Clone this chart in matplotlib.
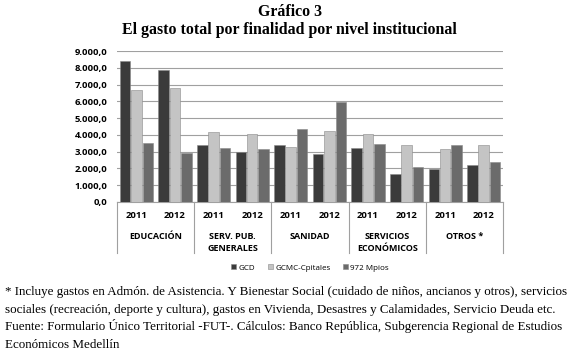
import numpy as np
import matplotlib.pyplot as plt
import matplotlib.transforms as mtransforms

# Datos (miles de millones)
categorias = ["EDUCACIÓN", "SERV. PUB.\nGENERALES", "SANIDAD", "SERVICIOS\nECONÓMICOS", "OTROS *"]
anios = ["2011", "2012"]
series = ["GCD", "GCMC-Cpitales", "972 Mpios"]
gcd = [8400, 7870, 3370, 2970, 3390, 2870, 3230, 1670, 1970, 2210]
gcmc = [6670, 6810, 4160, 4060, 3290, 4220, 4040, 3390, 3170, 3410]
mpios = [3490, 2930, 3230, 3170, 4360, 5980, 3470, 2110, 3410, 2390]
yticks = [0, 1000, 2000, 3000, 4000, 5000, 6000, 7000, 8000, 9000]
ytick_labels = ["0,0", "1.000,0", "2.000,0", "3.000,0", "4.000,0",
                "5.000,0", "6.000,0", "7.000,0", "8.000,0", "9.000,0"]
nota = ["* Incluye gastos en Admón. de Asistencia. Y Bienestar Social (cuidado de niños, ancianos y otros), servicios",
        "sociales (recreación, deporte y cultura), gastos en Vivienda, Desastres y Calamidades, Servicio Deuda etc.",
        "Fuente: Formulario Único Territorial -FUT-. Cálculos: Banco República, Subgerencia Regional de Estudios",
        "Económicos Medellín"]

colores = ["#3b3b3b", "#c4c4c4", "#6b6b6b"]
sans = "Open Sans"
serif = "Liberation Serif"

W, H = 578, 349
fig = plt.figure(figsize=(W / 100, H / 100), dpi=100)
ax = fig.add_axes([117 / W, 1 - 202 / H, 386 / W, 151 / H])

x = np.arange(len(gcd)) + 0.5
offs = [-0.29, 0.0, 0.30]
ancho = 0.27
for vals, off, c, lab in zip([gcd, gcmc, mpios], offs, colores, series):
    ax.bar(x + off, vals, width=ancho, color=c, edgecolor="#8a8a8a",
           linewidth=0.4, label=lab, zorder=3)

ax.set_xlim(0, len(gcd))
ax.set_ylim(0, 9000)
ax.set_yticks(yticks)
ax.set_yticklabels(ytick_labels, fontsize=6.8, fontweight="bold", family=sans)
ax.tick_params(axis="y", length=0, pad=7)
ax.set_xticks([])
ax.grid(axis="y", color="#a0a0a0", linewidth=0.8, zorder=0)
for s in ["top", "right", "left"]:
    ax.spines[s].set_visible(False)
ax.spines["bottom"].set_color("#a0a0a0")

trans = mtransforms.blended_transform_factory(ax.transData, ax.transAxes)
# etiquetas de anios y categorias
for i, xi in enumerate(x):
    ax.text(xi, -0.09, anios[i % 2], transform=trans, ha="center", va="center",
            fontsize=6.8, fontweight="bold", family=sans)
for g, cat in enumerate(categorias):
    ax.text(2 * g + 1, -0.2, cat, transform=trans, ha="center", va="top",
            fontsize=6.5, fontweight="bold", family=sans, linespacing=1.45)
for g in range(len(categorias) + 1):
    ax.plot([2 * g, 2 * g], [0, -0.34], transform=trans, color="#a0a0a0",
            linewidth=0.8, clip_on=False)

fig.legend(loc="center", bbox_to_anchor=(310 / W, 1 - 268 / H), ncol=3,
           frameon=False, prop={"family": sans, "size": 5.8},
           handlelength=0.6, handleheight=0.6, handletextpad=0.3, columnspacing=1.6)

fig.text(290 / W, 1 - 12 / H, "Gráfico 3", ha="center", va="center",
         fontsize=11.4, fontweight="bold", family=serif)
fig.text(289 / W, 1 - 30 / H, "El gasto total por finalidad por nivel institucional",
         ha="center", va="center", fontsize=11.4, fontweight="bold", family=serif)

# nota al pie, una linea por texto para controlar el interlineado
for k, linea in enumerate(nota):
    fig.text(5 / W, 1 - (295 + 17.5 * k) / H, linea, ha="left", va="baseline",
             fontsize=9.4, family=serif)

fig.savefig("out.png", dpi=100)
